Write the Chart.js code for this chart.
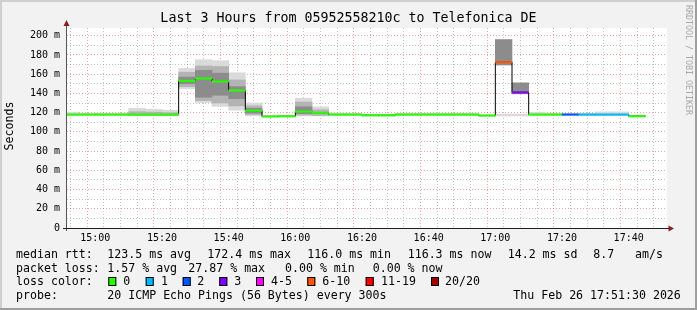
<!DOCTYPE html>
<html><head><meta charset="utf-8">
<script src="https://cdn.jsdelivr.net/npm/chart.js@4.4.1/dist/chart.umd.min.js"></script>
<style>
html,body{margin:0;padding:0;background:#f2f2f2;}
canvas{display:block;}
</style></head><body>
<canvas id="c" width="697" height="310"></canvas>
<script>
// ---- data ----
const windowStart = '14:51:30';
const windowEnd = '17:51:30';
const intervalEnds = ['14:55','15:00','15:05','15:10','15:15','15:20','15:25','15:30','15:35','15:40','15:45','15:50','15:55','16:00','16:05','16:10','16:15','16:20','16:25','16:30','16:35','16:40','16:45','16:50','16:55','17:00','17:05','17:10','17:15','17:20','17:25','17:30','17:35','17:40','17:45'];
const medianMs = [118,118,118,118,118,118,118,153,155.5,152.5,143,122,116.0,116.2,121,119.8,118,118,117.2,117.2,118,118,118,118,118,117,172.4,141,118,118,118,118,118,118,116.3];
const lossPings = [0,0,0,0,0,0,0,0,0,0,0,0,0,0,0,0,0,0,0,0,0,0,0,0,0,0,5.57,3,0,0,2,1,1,1,0];
const smokeOuter = [[117,120.5],[117,119.3],[117,119.3],[117,119.3],[117,124.5],[117,123.5],[117,122.5],[145,166],[130.5,175],[126.5,174],[122.5,161.5],[116.5,130],[115.5,117],[115.5,117],[116.5,135],[116.5,126],[117,119.5],[117,119.3],[116.5,118.5],[116.5,118.5],[117,119.3],[117,119.3],[117,119.3],[117,119.3],[117,119.3],[116,118],[116.5,118.5],[116.5,118.5],[117,120.5],[117,119.3],[117,119.3],[117,119.3],[117,120.8],[117,120.8],[115.5,117.5]];
const smokeMid = [null,null,null,null,[117,121],[117,120.5],[117,120],[147,162],[132.5,168.5],[130,168],[127,154],[118,127],null,null,[117.5,131],[117,123],null,null,null,null,null,null,null,null,null,null,null,null,null,null,null,null,null,null,null];
const smokeCore = [null,null,null,null,null,null,null,[150,157],[136,164],[138,161],[134.5,147],[119.5,124.5],null,null,[119,126],null,null,null,null,null,null,null,null,null,null,null,[169.5,196],[139.5,151],null,null,null,null,null,null,null];
const xTickLabels = ['15:00','15:20','15:40','16:00','16:20','16:40','17:00','17:20','17:40'];
const yTickLabels = ['0','20 m','40 m','60 m','80 m','100 m','120 m','140 m','160 m','180 m','200 m'];
const lossBinLabels = ['0','1','2','3','4-5','6-10','11-19','20/20'];
const lossBinUpper = [0,1,2,3,5,10,19,20];
const lossBinColors = ['#26ff00','#00b8ff','#0059ff','#7e00ff','#ff00ff','#ff5500','#ff0000','#a10000'];
const titleText = 'Last 3 Hours from 05952558210c to Telefonica DE';
const rttStats = ['123.5 ms avg','172.4 ms max','116.0 ms min','116.3 ms now','14.2 ms sd','8.7','am/s'];
const lossStats = ['1.57 % avg','27.87 % max','0.00 % min','0.00 % now'];
const probeText = '20 ICMP Echo Pings (56 Bytes) every 300s';
const stampText = 'Thu Feb 26 17:51:30 2026';

// ---- helpers ----
const toMin = s => { const p = s.split(':').map(Number); return p[0]*60 + p[1] + (p[2]||0)/60; };
const STEP = 5;
const xMin = toMin(windowStart), xMax = toMin(windowEnd);
const lossColor = l => { for (let i=0;i<lossBinUpper.length;i++) if (l <= lossBinUpper[i]) return lossBinColors[i]; return lossBinColors[lossBinColors.length-1]; };
const centers = intervalEnds.map(e => toMin(e) - STEP/2);
const floatData = arr => arr.map((v,i) => v ? {x: centers[i], y: v} : null).filter(Boolean);
const HALF = 1.1;
const medianBars = medianMs.map((m,i) => ({x: centers[i], y: [m-HALF, m+HALF]}));
const stepLine = medianMs.map((m,i) => ({x: toMin(intervalEnds[i]) - STEP, y: m}));
stepLine.push({x: toMin(intervalEnds[intervalEnds.length-1]), y: medianMs[medianMs.length-1]});
const majorX = xTickLabels.map(toMin);

const MONO = '"DejaVu Sans Mono", monospace';
const MINOR = 'rgba(150,150,150,0.55)';
const MAJOR = 'rgba(225,80,80,0.5)';

const rrdPlugin = {
  id: 'rrd',
  beforeDraw(chart) {
    const c = chart.ctx, a = chart.chartArea;
    c.save();
    c.fillStyle = '#f2f2f2'; c.fillRect(0,0,chart.width,chart.height);
    c.fillStyle = '#ffffff'; c.fillRect(a.left, a.top, a.right-a.left, a.bottom-a.top);
    c.restore();
  },
  afterDraw(chart) {
    const c = chart.ctx, a = chart.chartArea;
    c.save();
    // axes
    c.strokeStyle = '#555'; c.lineWidth = 1;
    c.beginPath(); c.moveTo(a.left-0.5, a.bottom+3); c.lineTo(a.left-0.5, 24); c.stroke();
    c.strokeStyle = '#1f1f1f';
    c.beginPath(); c.moveTo(a.left-4, a.bottom+0.5); c.lineTo(a.right+3, a.bottom+0.5); c.stroke();
    c.fillStyle = '#8a1f1f';
    c.beginPath(); c.moveTo(a.left-0.5, 20); c.lineTo(a.left-3.5, 26); c.lineTo(a.left+2.5, 26); c.closePath(); c.fill();
    c.beginPath(); c.moveTo(a.right+7, a.bottom+0.5); c.lineTo(a.right+1.5, a.bottom-2.5); c.lineTo(a.right+1.5, a.bottom+3.5); c.closePath(); c.fill();
    // title
    c.fillStyle = '#000';
    c.textBaseline = 'middle';
    c.font = '13.3px ' + MONO; c.textAlign = 'center';
    c.fillText(titleText, 348.5, 19);
    // y title
    c.save(); c.translate(10, 126); c.rotate(-Math.PI/2);
    c.font = '11.6px ' + MONO; c.fillText('Seconds', 0, 0); c.restore();
    // watermark
    c.save(); c.translate(688, 60); c.rotate(Math.PI/2);
    c.fillStyle = '#a8a8a8'; c.font = '8.3px ' + MONO; c.fillText('RRDTOOL / TOBI OETIKER', 0, 0); c.restore();
    // legend
    c.textAlign = 'left'; c.font = '11.6px ' + MONO; c.fillStyle = '#000';
    const rows = [254.5, 268.5, 282, 296];
    c.fillText('median rtt:', 16, rows[0]);
    const r1x = [107.3, 207.3, 307.3, 407.7, 507.7, 593.3, 635];
    rttStats.forEach((t,i) => c.fillText(t, r1x[i], rows[0]));
    c.fillText('packet loss:', 16, rows[1]);
    const r2x = [107.3, 188.3, 285, 372.7];
    lossStats.forEach((t,i) => c.fillText(t, r2x[i], rows[1]));
    c.fillText('loss color:', 16, rows[2]);
    const sqx = [108.3, 145.7, 182.7, 219.3, 256, 307.3, 365.7, 431];
    const lbx = [123.3, 161, 197.3, 234.3, 271, 322.3, 381, 445];
    lossBinLabels.forEach((t,i) => {
      c.fillStyle = lossBinColors[i]; c.fillRect(sqx[i], 277, 8, 9);
      c.strokeStyle = '#000'; c.lineWidth = 1; c.strokeRect(sqx[i]+0.5, 277.5, 7, 8);
      c.fillStyle = '#000'; c.fillText(t, lbx[i], rows[2]);
    });
    c.fillText('probe:', 16, rows[3]);
    c.fillText(probeText, 107.3, rows[3]);
    c.fillText(stampText, 513.3, rows[3]);
    // frame
    c.fillStyle = '#cfcfcf'; c.fillRect(0,0,chart.width,2); c.fillRect(0,0,2,chart.height);
    c.fillStyle = '#9e9e9e'; c.fillRect(0,chart.height-2,chart.width,2); c.fillRect(chart.width-2,0,2,chart.height);
    c.restore();
  }
};

const barBase = {type:'bar', grouped:false, categoryPercentage:1, barPercentage:1, borderWidth:0};
new Chart(document.getElementById('c'), {
  type: 'bar',
  data: {
    datasets: [
      Object.assign({}, barBase, {label:'median', data: medianBars, barPercentage:1.03,
        backgroundColor: medianMs.map((m,i) => lossColor(lossPings[i])), order:0}),
      {type:'line', label:'step', data: stepLine, stepped:true, borderColor:'#000', borderWidth:1,
        pointRadius:0, fill:false, order:1},
      Object.assign({}, barBase, {label:'core', data: floatData(smokeCore), backgroundColor:'#8c8c8c', order:2}),
      Object.assign({}, barBase, {label:'mid', data: floatData(smokeMid), backgroundColor:'#b4b4b4', order:3}),
      Object.assign({}, barBase, {label:'outer', data: floatData(smokeOuter), backgroundColor:'#dadada', order:4})
    ]
  },
  options: {
    responsive:false, animation:false, devicePixelRatio:1, events:[],
    layout:{padding:{left:0,right:30,top:28,bottom:0}},
    plugins:{legend:{display:false}, tooltip:{enabled:false}, title:{display:false}},
    scales:{
      x:{type:'linear', min:xMin, max:xMax, offset:false,
        afterBuildTicks(s){ const t=[]; for (let v=Math.ceil(xMin/STEP)*STEP; v<xMax; v+=STEP) t.push({value:v}); s.ticks=t; },
        afterFit(s){ s.height = 310 - 228; },
        grid:{drawTicks:false, color: ctx => (ctx.tick && majorX.includes(ctx.tick.value)) ? MAJOR : MINOR, lineWidth:1},
        border:{display:false, dash:[1,2]},
        ticks:{autoSkip:false, maxRotation:0, padding:4, color:'#000', font:{family:MONO, size:10},
          callback: v => { const k = majorX.indexOf(v); return k>=0 ? xTickLabels[k] : ''; }}
      },
      y:{type:'linear', min:0, max:208,
        afterBuildTicks(s){ const t=[]; for (let v=0; v<=200; v+=10) t.push({value:v}); s.ticks=t; },
        afterFit(s){ s.width = 67; },
        grid:{drawTicks:false, color: ctx => (ctx.tick && ctx.tick.value % 20 === 0) ? MAJOR : MINOR, lineWidth:1},
        border:{display:false, dash:[1,2]},
        ticks:{autoSkip:false, padding:7, color:'#000', font:{family:MONO, size:10},
          callback: v => v % 20 === 0 ? yTickLabels[v/20] : ''}
      }
    }
  },
  plugins:[rrdPlugin]
});
</script>
</body></html>
